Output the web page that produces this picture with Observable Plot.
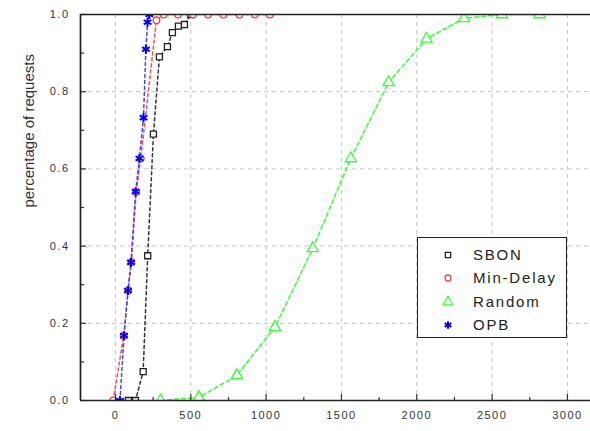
<!DOCTYPE html>
<html>
<head>
<meta charset="utf-8">
<script src="https://cdn.jsdelivr.net/npm/d3@7"></script>
<script src="https://cdn.jsdelivr.net/npm/@observablehq/plot@0.6"></script>
<style>
  body { margin: 0; background: #fff; }
  #wrap { position: relative; width: 590px; height: 431px; overflow: hidden; font-family: "Liberation Sans", Arial, sans-serif; }
  g[aria-label="x-axis tick label"] text, g[aria-label="y-axis tick label"] text { letter-spacing: 1.5px; }
  #legend { position: absolute; left: 417px; top: 237px; width: 148px; height: 99px; border: 1.5px solid #222; background: #fff; }
  .row { position: absolute; left: 0; height: 20px; }
  .row svg { position: absolute; left: 22px; top: 2px; }
  .row span { position: absolute; left: 55px; font-size: 15px; color: #222; letter-spacing: 1.8px; white-space: nowrap; line-height: 20px; }
</style>
</head>
<body>
<div id="wrap"></div>
<script>
// ---- data ----
const sbonX = [86, 133, 184, 214, 252, 292, 345, 378, 418, 458, 500];
const sbonY = [0, 0, 0.075, 0.375, 0.69, 0.89, 0.917, 0.953, 0.97, 0.974, 1.0];

const minDelayX = [-15, 55, 85, 106, 138, 168, 272, 320, 415, 515, 615, 717, 823, 925, 1025];
const minDelayY = [0, 0.168, 0.285, 0.358, 0.541, 0.627, 0.985, 1, 1, 1, 1, 1, 1, 1, 1];

const randomX = [300, 553, 806, 1059, 1310, 1562, 1813, 2065, 2313, 2565, 2815];
const randomY = [0, 0.008, 0.065, 0.19, 0.394, 0.627, 0.824, 0.937, 0.99, 1.0, 1.0];

const opbX = [30, 57, 83, 103, 134, 159, 186, 202, 213, 225];
const opbY = [0, 0.168, 0.285, 0.358, 0.541, 0.627, 0.733, 0.91, 0.98, 1.0];

const xMajor = [0, 500, 1000, 1500, 2000, 2500, 3000];
const xMinor = [250, 750, 1250, 1750, 2250, 2750];
const yMajor = [0, 0.2, 0.4, 0.6, 0.8, 1.0];
const yMinor = [0.1, 0.3, 0.5, 0.7, 0.9];
const yGrid = [0.2, 0.4, 0.6, 0.8];
const xDomain = [-232, 3153];
const yDomain = [0, 1];
const yLabel = "percentage of requests";

const seriesNames = ["SBON", "Min-Delay", "Random", "OPB"];
const colors = {SBON: "#222222", "Min-Delay": "#ff3b3b", Random: "#33ff33", OPB: "#0000ff"};
const lineColors = {SBON: "#333333", "Min-Delay": "#ff4d4d", Random: "#33ff33", OPB: "#4444ff"};
const symbols = {SBON: "square", "Min-Delay": "circle", Random: "triangle", OPB: "asterisk"};
const radii = {SBON: 3.4, "Min-Delay": 3.3, Random: 4.2, OPB: 4.2};
const widths = {SBON: 1.3, "Min-Delay": 1.3, Random: 1.3, OPB: 2};

const toRows = (xs, ys) => xs.map((x, i) => ({x, y: ys[i]}));
const series = {
  SBON: toRows(sbonX, sbonY),
  "Min-Delay": toRows(minDelayX, minDelayY),
  Random: toRows(randomX, randomY),
  OPB: toRows(opbX, opbY)
};

const drawOrder = ["Random", "SBON", "Min-Delay", "OPB"];
const seriesMarks = [];
for (const name of drawOrder) {
  seriesMarks.push(Plot.line(series[name], {
    x: "x", y: "y", stroke: lineColors[name], strokeWidth: 1.5,
    strokeDasharray: name === "Random" ? "4,3" : "3,3"
  }));
  seriesMarks.push(Plot.dot(series[name], {
    x: "x", y: "y", symbol: symbols[name], r: radii[name], stroke: colors[name],
    strokeWidth: widths[name], fill: name === "OPB" ? "none" : "white"
  }));
}

const M = {left: 80, right: 0, top: 14, bottom: 31};
const W = 590, H = 431;
const plotH = H - M.top - M.bottom;
const plotW = W - M.left - M.right;

// white covers outside the frame (to clip markers sitting on the frame edges)
const covers = [
  {x1: xDomain[0], x2: xDomain[1], y1: yDomain[1], y2: yDomain[1] + 0.2},
  {x1: xDomain[0], x2: xDomain[1], y1: yDomain[0] - 0.2, y2: yDomain[0]}
];

const chart = Plot.plot({
  width: W,
  height: H,
  marginLeft: M.left,
  marginRight: M.right,
  marginTop: M.top,
  marginBottom: M.bottom,
  style: {fontFamily: "'Liberation Sans', Arial, sans-serif", fontSize: "11px", background: "#fff"},
  x: {domain: xDomain, label: null},
  y: {domain: yDomain, label: null},
  marks: [
    Plot.ruleX(xMajor, {stroke: "#c4c4c4", strokeDasharray: "4,4", strokeWidth: 1}),
    Plot.ruleY(yGrid, {stroke: "#c4c4c4", strokeDasharray: "4,4", strokeWidth: 1}),
    ...seriesMarks,
    Plot.rect(covers, {x1: "x1", x2: "x2", y1: "y1", y2: "y2", fill: "white"}),
    Plot.ruleX(xMajor, {stroke: "#333", strokeWidth: 1.2, insetTop: plotH - 6}),
    Plot.ruleX(xMinor, {stroke: "#333", strokeWidth: 1.2, insetTop: plotH - 3}),
    Plot.ruleY(yMajor, {stroke: "#333", strokeWidth: 1.2, insetRight: plotW - 6}),
    Plot.ruleY(yMinor, {stroke: "#333", strokeWidth: 1.2, insetRight: plotW - 4}),
    Plot.ruleY(yDomain, {stroke: "#222", strokeWidth: 1.7}),
    Plot.ruleX([xDomain[0]], {stroke: "#222", strokeWidth: 1.7}),
    Plot.axisX(xMajor, {tickSize: 0, tickPadding: 11, fill: "#333", tickFormat: d => String(d), fontSize: 11}),
    Plot.axisY(yMajor, {tickSize: 0, tickPadding: 11, fill: "#333", tickFormat: d3.format(".1f"), fontSize: 11}),
    Plot.text([yLabel], {text: d => d, frameAnchor: "left", dx: -51, rotate: -90, fontSize: 15, fill: "#333", ariaLabel: "ylabel"})
  ]
});

const svg = d3.select(chart);
svg.selectAll('g[aria-label="ylabel"] text').attr("textLength", 222).attr("lengthAdjust", "spacingAndGlyphs");

const wrap = document.getElementById("wrap");
wrap.appendChild(chart);

// ---- legend ----
const legend = document.createElement("div");
legend.id = "legend";
const rowTops = [7, 30, 54, 77];
const symTypes = {square: d3.symbolSquare, circle: d3.symbolCircle, triangle: d3.symbolTriangle, asterisk: d3.symbolAsterisk};
const legendR = {SBON: 3, "Min-Delay": 3, Random: 3.6, OPB: 3.6};
seriesNames.forEach((name, i) => {
  const row = document.createElement("div");
  row.className = "row";
  row.style.top = rowTops[i] + "px";
  const r = legendR[name];
  const path = d3.symbol(symTypes[symbols[name]], Math.PI * r * r)();
  row.innerHTML = `<svg width="16" height="16" viewBox="-8 -8 16 16"><path d="${path}" fill="none" stroke="${colors[name]}" stroke-width="${widths[name]}"/></svg><span>${name}</span>`;
  legend.appendChild(row);
});
wrap.appendChild(legend);
</script>
</body>
</html>
